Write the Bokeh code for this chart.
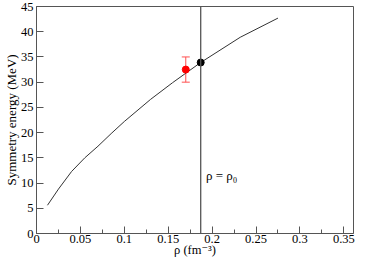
from bokeh.plotting import figure
from bokeh.models import (ColumnDataSource, FixedTicker, Span, Label, Whisker, TeeHead)
from bokeh.embed import file_html
from bokeh.resources import INLINE

# ---- data ----
rho = [0.0125, 0.025, 0.04, 0.055, 0.07, 0.085, 0.1, 0.13, 0.155, 0.187, 0.232, 0.275]
esym = [5.6, 8.8, 12.3, 15.0, 17.3, 19.8, 22.2, 26.6, 29.9, 33.9, 38.9, 42.7]
rho0 = [0.187]
esym0 = [33.9]
exp_rho = [0.170]
exp_esym = [32.5]
exp_err = [2.5]
x_ticks = [0, 0.05, 0.1, 0.15, 0.2, 0.25, 0.3, 0.35]
x_tick_labels = ["0", "0.05", "0.1", "0.15", "0.2", "0.25", "0.3", "0.35"]
x_minor = [0.025, 0.075, 0.125, 0.175, 0.225, 0.275, 0.325]
y_ticks = [0, 5, 10, 15, 20, 25, 30, 35, 40, 45]
y_tick_labels = ["0", "5", "10", "15", "20", "25", "30", "35", "40", "45"]

FONT = "'Liberation Serif', 'DejaVu Serif', serif"
AX = "#555555"

p = figure(width=355, height=259, x_range=(0, 0.361), y_range=(0, 45),
           output_backend="svg", toolbar_location=None,
           min_border_left=2, min_border_right=2, min_border_top=6, min_border_bottom=2)
p.grid.visible = False
p.outline_line_color = AX
p.outline_line_width = 1
p.background_fill_color = "white"
p.border_fill_color = "white"

for ax in (p.xaxis[0], p.yaxis[0]):
    ax.axis_line_color = AX
    ax.major_tick_line_color = AX
    ax.minor_tick_line_color = AX
    ax.major_tick_in = 7
    ax.major_tick_out = 0
    ax.minor_tick_in = 4
    ax.minor_tick_out = 0
    ax.major_label_text_font = FONT
    ax.major_label_text_font_size = "12.5px"
    ax.major_label_text_color = "black"
    ax.major_label_standoff = 3
    ax.axis_label_text_font = FONT
    ax.axis_label_text_font_style = "normal"
    ax.axis_label_text_color = "black"
p.xaxis[0].major_label_standoff = 1
p.xaxis[0].axis_label = "ρ (fm⁻³)"
p.xaxis[0].axis_label_text_font_size = "12.5px"
p.xaxis[0].axis_label_standoff = -3
p.yaxis[0].axis_label = "Symmetry energy (MeV)"
p.yaxis[0].axis_label_text_font_size = "13px"
p.yaxis[0].axis_label_standoff = -1

p.xaxis[0].ticker = FixedTicker(ticks=x_ticks, minor_ticks=x_minor)
p.xaxis[0].major_label_overrides = {t: l for t, l in zip(x_ticks, x_tick_labels)}
p.yaxis[0].ticker = FixedTicker(ticks=y_ticks, minor_ticks=[])
p.yaxis[0].major_label_overrides = {t: l for t, l in zip(y_ticks, y_tick_labels)}

# vertical line at rho0
p.add_layout(Span(location=rho0[0], dimension="height", line_color=AX, line_width=1.3))

# curve
p.line(rho, esym, line_color="#333333", line_width=1)

# experimental point with error bar
src = ColumnDataSource(dict(x=exp_rho, y=exp_esym,
                            upper=[v + e for v, e in zip(exp_esym, exp_err)],
                            lower=[v - e for v, e in zip(exp_esym, exp_err)]))
p.add_layout(Whisker(source=src, base="x", upper="upper", lower="lower",
                     line_color="#ff5050", line_width=1,
                     upper_head=TeeHead(size=8, line_color="#ff5050", line_width=1),
                     lower_head=TeeHead(size=8, line_color="#ff5050", line_width=1)))
p.scatter("x", "y", source=src, size=7, color="red")
p.scatter(rho0, esym0, size=7, color="black")

# annotation text
p.add_layout(Label(x=0.193, y=10.1, text="ρ = ρ₀", text_font=FONT,
                   text_font_size="13px", text_color="black"))

open("out.html", "w").write(file_html(p, INLINE))
